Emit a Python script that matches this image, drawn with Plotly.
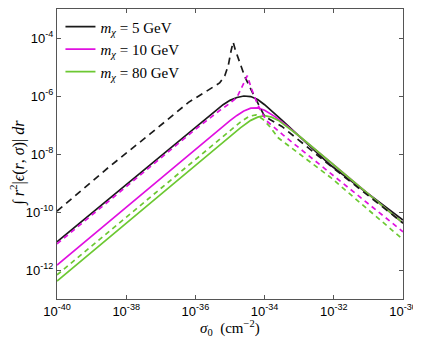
import numpy as np
import plotly.graph_objects as go

# log10(sigma_0) / log10(integral)
bs_x = [-40, -38, -36, -35.5, -35.2, -35.0, -34.8, -34.6, -34.4, -34.2, -34.0, -33.5, -32.1, -31, -30]
bs_y = [-11.03, -9.05, -7.07, -6.58, -6.3, -6.15, -6.05, -6.0, -6.02, -6.12, -6.3, -6.83, -8.38, -9.38, -10.28]

ms_x = [-40, -36, -35.5, -35.0, -34.8, -34.6, -34.4, -34.2, -34.0, -33.7, -33.4, -33.0, -32, -30]
ms_y = [-11.83, -7.83, -7.33, -6.85, -6.67, -6.52, -6.42, -6.41, -6.49, -6.71, -6.99, -7.38, -8.38, -10.38]

gs_x = [-40, -36, -35.5, -35.0, -34.7, -34.4, -34.2, -34.0, -33.8, -33.6, -33.3, -33.0, -32, -30]
gs_y = [-12.38, -8.38, -7.88, -7.38, -7.1, -6.84, -6.73, -6.68, -6.73, -6.84, -7.1, -7.38, -8.38, -10.38]

bd_x = [-40, -38.5, -37.3, -36.2, -35.7, -35.3, -35.15, -35.05, -34.97, -34.91, -34.85,
        -34.72, -34.57, -34.36, -34.0, -33.5, -32.0, -30]
bd_y = [-9.97, -8.45, -7.3, -6.22, -5.85, -5.55, -5.3, -4.95, -4.45, -4.14, -4.4,
        -4.86, -5.34, -5.86, -6.7, -7.05, -8.5, -10.38]

md_x = [-40, -38, -36, -35.3, -35.0, -34.8, -34.65, -34.5, -34.38, -34.2, -33.95, -33.47, -32.1, -30]
md_y = [-11.1, -9.12, -7.15, -6.5, -6.25, -6.05, -5.7, -5.3, -5.75, -6.3, -6.85, -7.34, -8.66, -10.68]

gd_x = [-40, -38, -36, -35, -34.7, -34.45, -34.25, -34.05, -33.84, -33.6, -32.1, -30]
gd_y = [-12.17, -10.17, -8.17, -7.17, -6.9, -6.7, -6.65, -6.8, -7.07, -7.45, -8.8, -10.95]

names = ["5", "10", "80"]
colors = ["#1a1a1a", "#e010e0", "#6cc832"]

# tick exponents
x_ticks = [-40, -38, -36, -34, -32, -30]
y_ticks = [-12, -10, -8, -6, -4]

fig = go.Figure()

solids = [(bs_x, bs_y), (ms_x, ms_y), (gs_x, gs_y)]
dashes = [(bd_x, bd_y, "7px,5px"), (md_x, md_y, "5px,4px"), (gd_x, gd_y, "5px,4px")]

for (xs, ys), c, n in zip(solids, colors, names):
    fig.add_trace(go.Scatter(
        x=10 ** np.array(xs), y=10 ** np.array(ys), mode="lines",
        line=dict(color=c, width=1.7),
        name=f"<i>m</i><sub><i>χ</i></sub> = {n} GeV"))

for (xs, ys, d), c in zip(dashes, colors):
    fig.add_trace(go.Scatter(
        x=10 ** np.array(xs), y=10 ** np.array(ys), mode="lines",
        line=dict(color=c, width=1.7, dash=d), showlegend=False))

axis = dict(type="log", showgrid=False,
            zeroline=False, showline=True, linecolor="#555", linewidth=1,
            mirror="allticks", ticks="inside", ticklen=4, tickcolor="#555",
            automargin=False, ticklabeloverflow="allow",
            tickfont=dict(family="Liberation Sans", size=13, color="black"))

fig.update_xaxes(**axis, range=[-40, -30], tickvals=[10.0 ** e for e in x_ticks],
                 ticktext=[f"10<sup>-{-e}</sup>" for e in x_ticks])
fig.update_yaxes(**axis, range=[-13, -3], tickvals=[10.0 ** e for e in y_ticks],
                 ticktext=[f"10<sup>-{-e}</sup>" for e in y_ticks])

fig.add_annotation(text="<i>σ</i><sub>0</sub>  (cm<sup>−2</sup>)", xref="paper", yref="paper",
                   x=0.5, y=0, yshift=-29, showarrow=False, yanchor="middle",
                   font=dict(family="Liberation Serif", size=15, color="black"))
fig.add_annotation(text="∫ <i>r</i><sup>2</sup>|<i>ϵ</i>(<i>r</i>, <i>σ</i>)| <i>dr</i>",
                   xref="paper", yref="paper", x=0, xshift=-39, y=0.47, textangle=-90,
                   showarrow=False, xanchor="center",
                   font=dict(family="Liberation Serif", size=16, color="black"))

# page body has an 8px margin, so the figure is shrunk by that much
fig.update_layout(
    width=413, height=333,
    margin=dict(l=49, r=18, t=1, b=42),
    plot_bgcolor="white", paper_bgcolor="white",
    legend=dict(x=0.01, y=0.995, xanchor="left", yanchor="top", itemwidth=30,
                bgcolor="rgba(255,255,255,0)", tracegroupgap=0,
                font=dict(family="Liberation Serif", size=15, color="black")),
)

fig.write_html("out.html")
